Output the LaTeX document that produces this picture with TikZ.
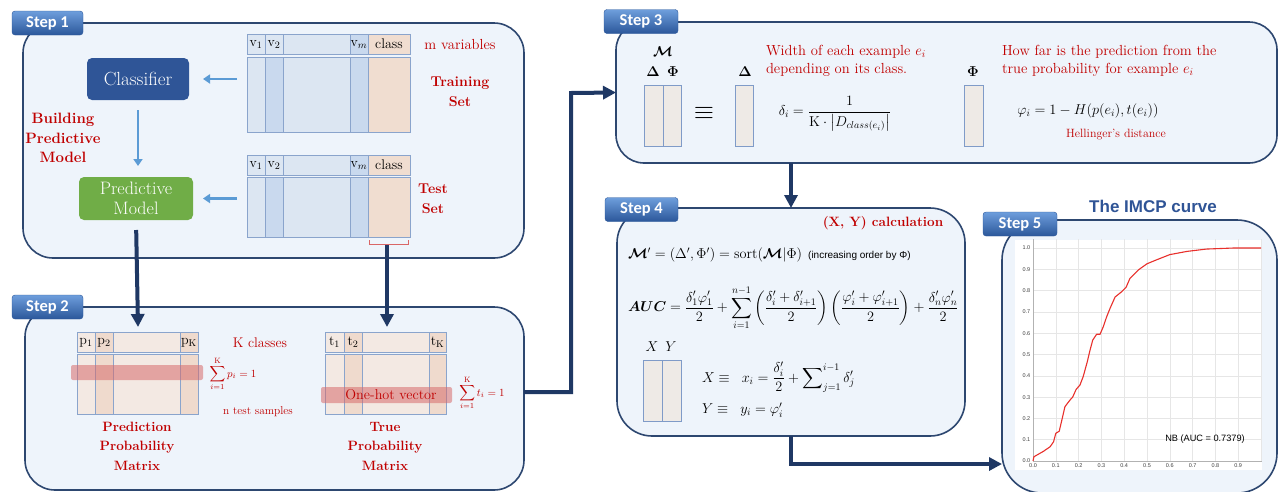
\RequirePackage{fix-cm}
\documentclass[tikz,border=0pt]{standalone}
\usepackage{amsmath}
\usepackage{bm}
\usepackage{fontspec}
\newfontfamily\stepfont{Carlito}
\newfontfamily\arialf{Liberation Sans}
\usetikzlibrary{arrows.meta}
\definecolor{panelfill}{HTML}{EEF4FB}
\definecolor{panelline}{HTML}{2D4770}
\definecolor{tabtop}{HTML}{6E9EDC}
\definecolor{tabbot}{HTML}{2B579A}
\definecolor{navy}{HTML}{1F3864}
\definecolor{lblue}{HTML}{5B9BD5}
\definecolor{redc}{HTML}{C00000}
\definecolor{clsblue}{HTML}{2F5597}
\definecolor{pmgreen}{HTML}{70AD47}
\definecolor{cellA}{HTML}{DCE6F2}
\definecolor{cellB}{HTML}{C9D9EE}
\definecolor{cellC}{HTML}{F0DDD0}
\definecolor{cellD}{HTML}{F3E9E3}
\definecolor{cellE}{HTML}{EFDACD}
\definecolor{tline}{HTML}{8AA4CC}
\definecolor{tline2}{HTML}{7F9BC8}
\definecolor{boxfill}{HTML}{EEEAE6}
\definecolor{band}{HTML}{D76B6B}
\definecolor{curvec}{HTML}{E8302C}
\definecolor{gridc}{HTML}{E6E6E6}
\definecolor{titleblue}{HTML}{2F5496}
\newcommand{\cellr}[5]{\filldraw[fill=#5, draw=tline, line width=0.8pt] (#1,#2) rectangle (#3,#4);}
\begin{document}
\begin{tikzpicture}[x=1pt,y=-1pt,
  every node/.style={inner sep=0pt,outer sep=0pt},
  panel/.style={draw=panelline, line width=1.6pt, fill=panelfill, rounded corners=#1},
  steptab/.style={rounded corners=3pt, top color=tabtop, bottom color=tabbot, draw=tabbot, line width=0.4pt, minimum height=24pt, text=white, font=\stepfont\bfseries\fontsize{16.5}{18}\selectfont},
  bigarrow/.style={draw=navy, line width=4pt, -{Triangle[length=13pt,width=13pt]}},
  lightarrow/.style={draw=lblue, line width=2.2pt, -{Triangle[length=7pt,width=9pt]}},
  bred/.style={text=redc, align=center, font=\bfseries\fontsize{13.5}{19.5}\selectfont},
  rred/.style={text=redc, font=\fontsize{14.6}{18}\selectfont},
  hdr/.style={font=\fontsize{14}{16}\selectfont},
  mbox/.style={draw=tline2, fill=boxfill, line width=1pt},
  mth/.style={font=\fontsize{14.3}{17}\selectfont},
  ticklab/.style={font=\arialf\fontsize{5.5}{6}\selectfont, text=black!75},
]
\useasboundingbox (0,0) rectangle (1284,491);
\clip (0,0) rectangle (1284,491);

% ---------------- panels ----------------
\node[panel=30pt, minimum width=501pt, minimum height=235pt] (s1) at (273.5,140.5) {};
\node[panel=30pt, minimum width=499pt, minimum height=183pt] (s2) at (274.5,398.5) {};
\node[panel=28pt, minimum width=661pt, minimum height=141pt] (s3) at (946.5,92.5) {};
\node[panel=35pt, minimum width=348pt, minimum height=228pt] (s4) at (791,322) {};
\node[panel=40pt, minimum width=275pt, minimum height=273pt] (s5) at (1139.5,356.5) {};

% ---------------- tabs ----------------
\node[steptab, minimum width=71pt] (t1) at (47.5,23) {Step 1};
\node[steptab, minimum width=71pt] (t2) at (47.5,307) {Step 2};
\node[steptab, minimum width=74pt] (t3) at (641,21.5) {Step 3};
\node[steptab, minimum width=73pt] (t4) at (641.5,209.5) {Step 4};
\node[steptab, minimum width=74pt] (t5) at (1020,224) {Step 5};

% ---------------- Step 1 ----------------
\node[fill=clsblue, rounded corners=5pt, minimum width=102pt, minimum height=42pt, text=white, font=\fontsize{19}{21}\selectfont] (cls) at (138,79) {Classifier};
\node[fill=pmgreen, rounded corners=5pt, minimum width=114pt, minimum height=43pt, text=white, align=center, font=\fontsize{18}{20}\selectfont] (pm) at (136,198.5) {Predictive\\Model};
\node[bred, font=\bfseries\fontsize{15}{19.5}\selectfont] (bpm) at (63,138) {Building\\Predictive\\Model};

% training table
\cellr{247}{34}{265}{54}{cellA}\cellr{265}{34}{283}{54}{cellA}\cellr{283}{34}{350}{54}{cellA}\cellr{350}{34}{368}{54}{cellB}\cellr{368}{34}{410}{54}{cellC}
\cellr{247}{57}{265}{132}{cellA}\cellr{265}{57}{283}{132}{cellB}\cellr{283}{57}{350}{132}{cellA}\cellr{350}{57}{368}{132}{cellB}\cellr{368}{57}{410}{132}{cellC}
\node[hdr] (trv1) at (256,44.5) {$\mathrm{v}_1$};
\node[hdr] (trv2) at (274,44.5) {$\mathrm{v}_2$};
\node[hdr] (trvm) at (359,44.5) {$\mathrm{v}_m$};
\node[hdr] (trcl) at (389,43.5) {class};
\node[minimum width=163pt, minimum height=98pt] (train) at (328.5,83) {};
% test table
\cellr{247}{155}{265}{175}{cellA}\cellr{265}{155}{283}{175}{cellA}\cellr{283}{155}{350}{175}{cellA}\cellr{350}{155}{368}{175}{cellB}\cellr{368}{155}{410}{175}{cellC}
\cellr{247}{177}{265}{237}{cellA}\cellr{265}{177}{283}{237}{cellB}\cellr{283}{177}{350}{237}{cellA}\cellr{350}{177}{368}{237}{cellB}\cellr{368}{177}{410}{237}{cellC}
\node[hdr] (tev1) at (256,165.5) {$\mathrm{v}_1$};
\node[hdr] (tev2) at (274,165.5) {$\mathrm{v}_2$};
\node[hdr] (tevm) at (359,165.5) {$\mathrm{v}_m$};
\node[hdr] (tecl) at (389,164.5) {class};
\node[minimum width=163pt, minimum height=82pt] (test) at (328.5,196) {};
\draw[draw=redc!60, line width=0.8pt] (369,240) -- (369,244) -- (408,244) -- (408,240);
\coordinate (brk) at (387,245);

\node[rred] (mvar) at (460,44.5) {m variables};
\node[bred, font=\bfseries\fontsize{14.2}{20}\selectfont] (trs) at (460,92) {Training\\Set};
\node[bred, font=\bfseries\fontsize{14.2}{20}\selectfont] (tes) at (433,199) {Test\\Set};

\draw[lightarrow, shorten <=10pt, shorten >=14pt] (train.west |- cls.east) -- (cls.east);
\draw[lightarrow, shorten <=10pt, shorten >=10pt] (test.west |- pm.east) -- (pm.east);
\draw[lightarrow, shorten <=10pt, shorten >=11pt] (cls.south) -- (cls.south |- pm.north);

% ---------------- Step 2 ----------------
\cellr{77}{332}{95}{352}{cellD}\cellr{95}{332}{113}{352}{cellE}\cellr{113}{332}{180}{352}{cellD}\cellr{180}{332}{198}{352}{cellE}
\cellr{77}{354}{95}{414}{cellD}\cellr{95}{354}{113}{414}{cellE}\cellr{113}{354}{180}{414}{cellD}\cellr{180}{354}{198}{414}{cellE}
\node[hdr] (pp1) at (86,342.5) {$\mathrm{p}_1$};
\node[hdr] (pp2) at (104,342.5) {$\mathrm{p}_2$};
\node[hdr] (ppk) at (189,342.5) {$\mathrm{p}_\mathrm{K}$};
\node[fill=band, fill opacity=0.55, rounded corners=2pt, minimum width=132pt, minimum height=15pt] (band1) at (137,372.5) {};
\node[minimum width=121pt, minimum height=82pt] (ppm) at (137.5,373) {};
\node[text=redc, font=\fontsize{11}{13}\selectfont] (sum1) at (233,374) {$\displaystyle\sum_{i=1}^{\mathrm{K}} p_i = 1$};
\node[rred, font=\fontsize{14}{16}\selectfont] (kcl) at (260,343) {K classes};
\node[rred, font=\fontsize{11.4}{13}\selectfont] (nts) at (258,412) {n test samples};
\node[bred] (ppmt) at (137,446) {Prediction\\Probability\\Matrix};

\cellr{325}{332}{344}{352}{cellD}\cellr{344}{332}{362}{352}{cellE}\cellr{362}{332}{429}{352}{cellD}\cellr{429}{332}{446}{352}{cellE}
\cellr{325}{354}{344}{414}{cellD}\cellr{344}{354}{362}{414}{cellE}\cellr{362}{354}{429}{414}{cellD}\cellr{429}{354}{446}{414}{cellE}
\node[hdr] (tt1) at (334.5,342.5) {$\mathrm{t}_1$};
\node[hdr] (tt2) at (353,342.5) {$\mathrm{t}_2$};
\node[hdr] (ttk) at (437.5,342.5) {$\mathrm{t}_\mathrm{K}$};
\node[fill=band, fill opacity=0.55, rounded corners=2pt, minimum width=131pt, minimum height=16pt] (band2) at (386.5,395) {};
\node[rred, font=\fontsize{14.2}{16}\selectfont] (oh) at (391,395) {One-hot vector};
\node[minimum width=121pt, minimum height=82pt] (tpm) at (385.5,373) {};
\node[text=redc, font=\fontsize{11}{13}\selectfont] (sum2) at (482,393) {$\displaystyle\sum_{i=1}^{\mathrm{K}} t_i = 1$};
\node[bred] (tpmt) at (385,446) {True\\Probability\\Matrix};

% Step1 -> Step2 arrows
\coordinate (a1) at (138,327);
\coordinate (a2) at (387,327);
\draw[bigarrow, shorten <=10pt] (pm.south) -- (a1);
\draw[bigarrow] (brk) -- (a2);

% ---------------- Step 3 ----------------
\node[mth] (mlab) at (663,52) {$\boldsymbol{\mathcal{M}}$};
\node[mth] (dlab) at (653,72) {$\boldsymbol{\Delta}$};
\node[mth] (plab) at (673,72) {$\boldsymbol{\Phi}$};
\node[mbox, minimum width=19pt, minimum height=61pt] (mb1) at (653.5,115.5) {};
\node[mbox, minimum width=18pt, minimum height=61pt] (mb2) at (672,115.5) {};
\node[font=\fontsize{26}{28}\selectfont] (equiv) at (704,113) {$\equiv$};
\node[mth] (dlab2) at (745,72) {$\boldsymbol{\Delta}$};
\node[mbox, minimum width=18pt, minimum height=61pt] (db) at (744,115.5) {};
\node[rred, anchor=west, align=left] (wtxt) at (766,61) {Width of each example $e_i$\\depending on its class.};
\node[mth] (deltaf) at (835,114) {$\delta_i = \dfrac{1}{\mathrm{K}\cdot\bigl|D_{class(e_i)}\bigr|}$};
\node[mth] (plab2) at (973,72) {$\boldsymbol{\Phi}$};
\node[mbox, minimum width=19pt, minimum height=61pt] (pb) at (973.5,115.5) {};
\node[rred, anchor=west, align=left] (htxt) at (1002,61) {How far is the prediction from the\\true probability for example $e_i$};
\node[mth] (phif) at (1088,111) {$\varphi_i = 1 - H(p(e_i),t(e_i))$};
\node[rred, font=\fontsize{12}{13}\selectfont] (hell) at (1116,135) {Hellinger's distance};

% Step2 -> Step3
\draw[bigarrow] ([yshift=6.5pt]s2.east) -- (571,392) -- (571,93) -- (s3.west);
% Step3 -> Step4
\draw[bigarrow] (s3.south -| s4.north) -- (s4.north);

% ---------------- Step 4 ----------------
\node[bred, font=\bfseries\fontsize{13.5}{16}\selectfont] (xyc) at (883,223) {(X, Y) calculation};
\node[mth, anchor=west] (mpf) at (628,255) {$\boldsymbol{\mathcal{M}}' = (\Delta',\Phi') = \mathrm{sort}(\boldsymbol{\mathcal{M}}|\Phi)$\hspace{6pt}{\arialf\fontsize{10}{12}\selectfont(increasing order by Φ)}};
\node[mth, anchor=west] (aucf) at (628,308) {$\displaystyle\boldsymbol{AUC} = \frac{\delta_1'\varphi_1'}{2} + \sum_{i=1}^{n-1}\left(\frac{\delta_i'+\delta_{i+1}'}{2}\right)\left(\frac{\varphi_i'+\varphi_{i+1}'}{2}\right) + \frac{\delta_n'\varphi_n'}{2}$};
\node[mth] (xlab) at (652,347) {$X$};
\node[mth] (ylab) at (671,347) {$Y$};
\node[mbox, minimum width=19pt, minimum height=61pt] (xb) at (652.5,390.5) {};
\node[mbox, minimum width=19pt, minimum height=61pt] (yb) at (671.5,390.5) {};
\node[mth, anchor=west] (xf) at (702,377) {$X \equiv\;\; x_i = \dfrac{\delta_i'}{2} + \displaystyle\sum\nolimits_{j=1}^{i-1}\delta_j'$};
\node[mth, anchor=west] (yf) at (702,410) {$Y \equiv\;\; y_i = \varphi_i'$};

% Step4 -> Step5
\coordinate (c45) at (1002,464);
\draw[bigarrow] (s4.south) |- (c45);

% ---------------- Step 5 ----------------
\node[font=\arialf\bfseries\fontsize{17}{20}\selectfont, text=titleblue] (title) at (1153,206) {The IMCP curve};
\fill[white] (1015,240) rectangle (1262,470);
\begin{scope}[shift={(1033,461)}, x=228pt, y=213pt]
  \foreach \i in {1,...,10} \draw[gridc, line width=0.6pt] (\i/10,0) -- (\i/10,1.04);
  \foreach \i in {1,...,10} \draw[gridc, line width=0.6pt] (0,\i/10) -- (1.004,\i/10);
  \draw[black!30, line width=0.7pt] (0,1.04) -- (0,0) -- (1.004,0);
  \foreach \v/\l in {0/0.0,1/0.1,2/0.2,3/0.3,4/0.4,5/0.5,6/0.6,7/0.7,8/0.8,9/0.9,10/1.0}
    \node[ticklab, anchor=east] at (-0.012,\v/10) {\l};
  \foreach \v/\l in {0/0.0,1/0.1,2/0.2,3/0.3,4/0.4,5/0.5,6/0.6,7/0.7,8/0.8,9/0.9}
    \node[ticklab, anchor=north] at (\v/10,-0.012) {\l};
  \draw[curvec, line width=1.1pt, line join=round] plot coordinates {(0,0) (0.004,0.02) (0.045,0.045) (0.075,0.067) (0.09,0.09) (0.10,0.13) (0.115,0.14) (0.126,0.19) (0.14,0.255) (0.162,0.286) (0.174,0.30) (0.189,0.336) (0.206,0.357) (0.22,0.396) (0.238,0.466) (0.25,0.52) (0.262,0.568) (0.279,0.595) (0.294,0.595) (0.308,0.63) (0.323,0.677) (0.338,0.717) (0.36,0.77) (0.389,0.795) (0.408,0.815) (0.425,0.857) (0.462,0.897) (0.5,0.926) (0.543,0.945) (0.6,0.969) (0.675,0.984) (0.76,0.995) (0.88,1.0) (1.0,1.0)};
\end{scope}
\node[font=\arialf\fontsize{9.2}{11}\selectfont] (nb) at (1205,439) {NB (AUC = 0.7379)};
\end{tikzpicture}
\end{document}
